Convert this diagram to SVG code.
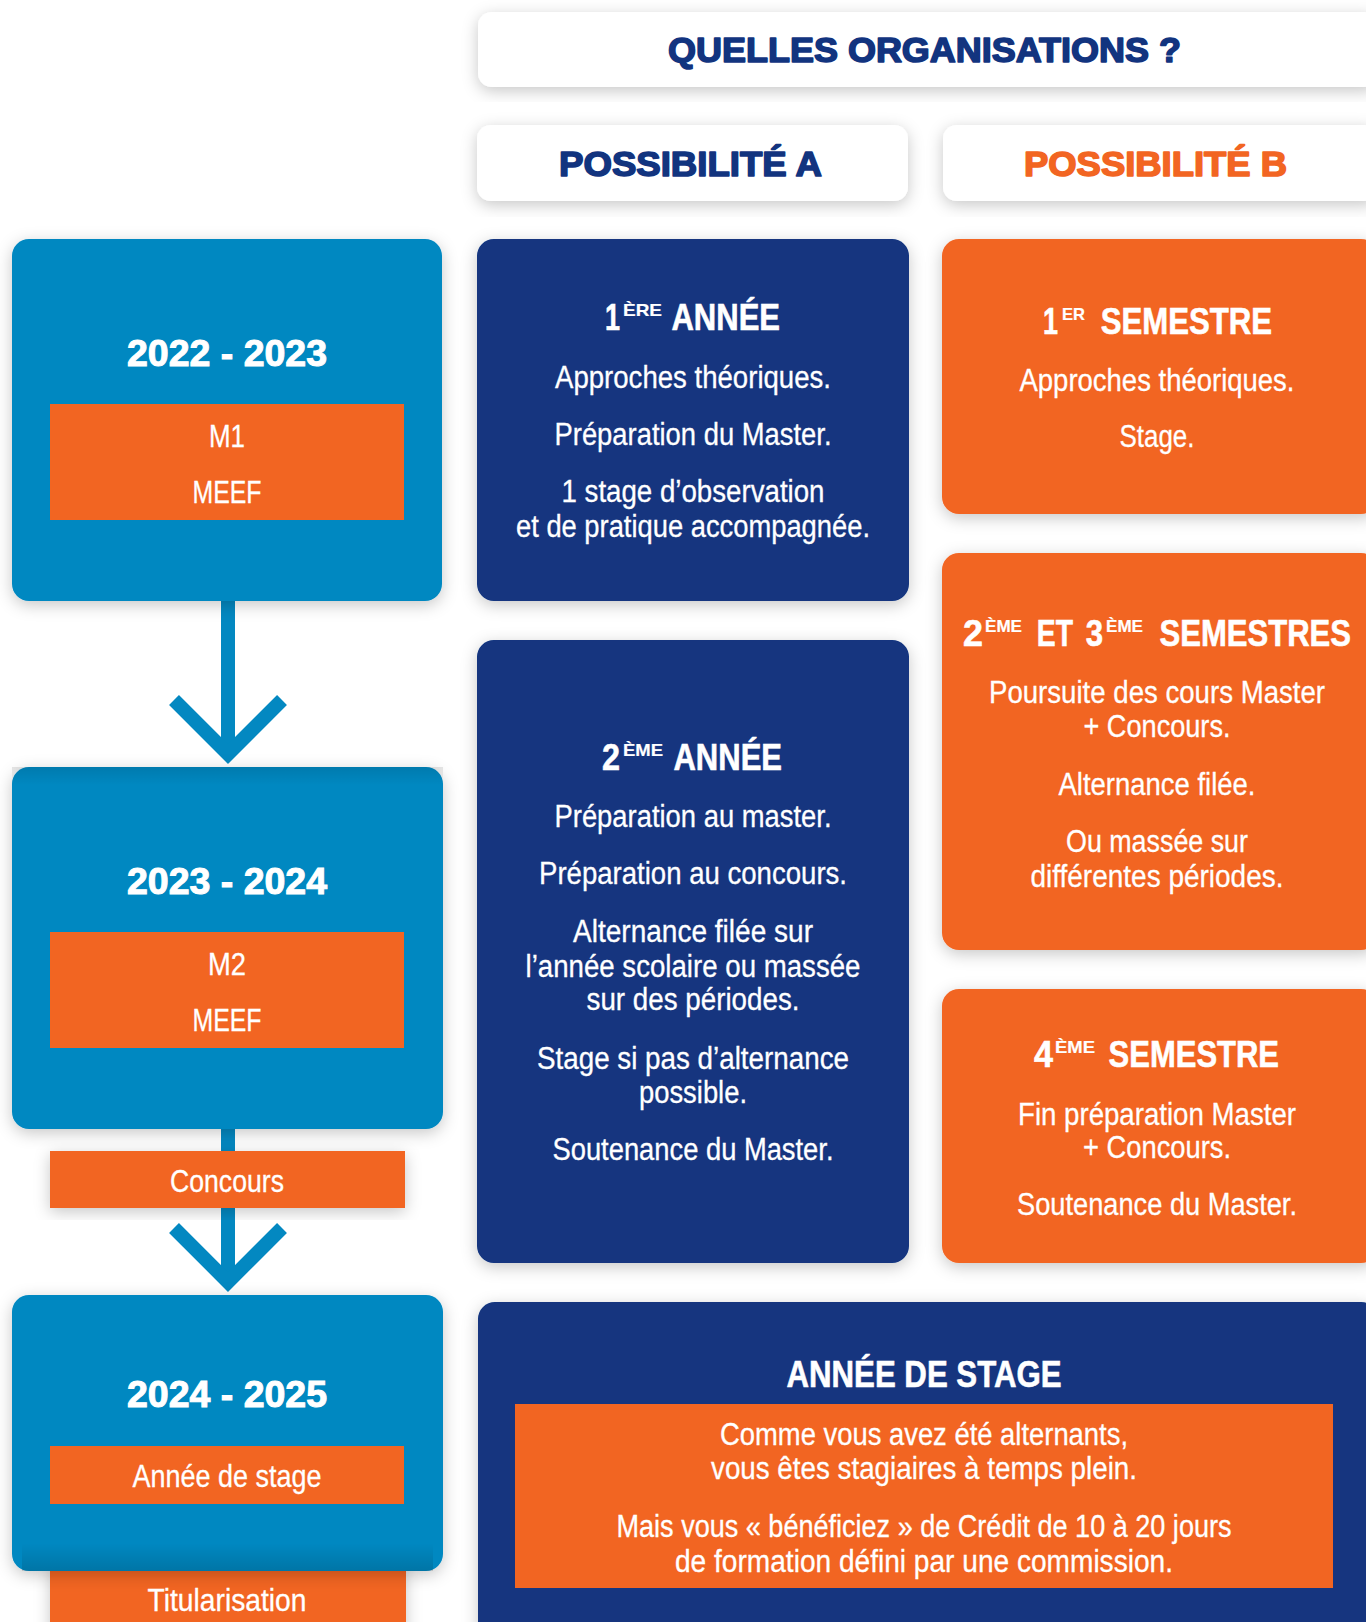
<svg xmlns="http://www.w3.org/2000/svg" width="1366" height="1622" viewBox="0 0 1366 1622">
<defs>
<filter id="sh" x="-20%" y="-20%" width="140%" height="140%">
<feDropShadow dx="0" dy="4" stdDeviation="8" flood-color="#000" flood-opacity="0.22"/>
</filter>
<linearGradient id="bandTop" x1="0" y1="0" x2="0" y2="1">
<stop offset="0" stop-color="#000" stop-opacity="0.10"/>
<stop offset="1" stop-color="#000" stop-opacity="0"/>
</linearGradient>
<linearGradient id="bandBot" x1="0" y1="0" x2="0" y2="1">
<stop offset="0" stop-color="#000" stop-opacity="0"/>
<stop offset="1" stop-color="#000" stop-opacity="0.14"/>
</linearGradient>
</defs>
<style>
.lb{fill:#0388C1}
.nv{fill:#12347F}
.or{fill:#F26522}
.wh{fill:#FFFFFF}
.hd{font-family:"Liberation Sans",Arial,sans-serif;font-weight:bold;font-size:35px;text-anchor:middle;stroke-width:1.6;stroke-linejoin:round}
.hd.nv{stroke:#12347F}
.hd.or{stroke:#F26522}
.yr{font-family:"Liberation Sans",Arial,sans-serif;font-weight:bold;font-size:37px;fill:#fff;stroke:#fff;stroke-width:1;text-anchor:middle}
.tx{font-family:"Liberation Sans Narrow","Liberation Sans",Arial,sans-serif;font-size:31px;fill:#fff;stroke:#fff;stroke-width:0.3;text-anchor:middle}
.lt{font-family:"Liberation Sans Narrow","Liberation Sans",Arial,sans-serif;font-size:32px;fill:#fff;stroke:#fff;stroke-width:0.3;text-anchor:middle}
.ti{font-family:"Liberation Sans Narrow","Liberation Sans",Arial,sans-serif;font-weight:bold;font-size:37px;fill:#fff;stroke:#fff;stroke-width:0.6}
.sp{font-size:17px;stroke-width:0.2}
.ln{stroke:#0388C1;stroke-width:14;fill:none;stroke-linejoin:miter;stroke-linecap:butt}
</style>
<rect width="1366" height="1622" fill="#fff"/>

<g id="connectors">
<line class="ln" x1="228" y1="598" x2="228" y2="756"/>
<polyline class="ln" points="174,700 228,754 282,700"/>
<line class="ln" x1="228" y1="1126" x2="228" y2="1284"/>
<polyline class="ln" points="174,1228 228,1282 282,1228"/>
</g>

<g id="header">
<rect class="wh" x="478" y="12" width="900" height="75" rx="14" filter="url(#sh)"/>
<text class="hd nv" x="924.5" y="62" textLength="513" lengthAdjust="spacingAndGlyphs">QUELLES ORGANISATIONS ?</text>
</g>
<g id="possibilite-a">
<rect class="wh" x="477" y="125" width="431" height="76" rx="14" filter="url(#sh)"/>
<text class="hd nv" x="690.5" y="176" textLength="263" lengthAdjust="spacingAndGlyphs">POSSIBILITÉ A</text>
</g>
<g id="possibilite-b">
<rect class="wh" x="943" y="125" width="435" height="76" rx="14" filter="url(#sh)"/>
<text class="hd or" x="1155.5" y="176" textLength="263" lengthAdjust="spacingAndGlyphs">POSSIBILITÉ B</text>
</g>

<g id="year-2022">
<rect class="lb" x="12" y="239" width="430" height="362" rx="17" filter="url(#sh)"/>
<text class="yr" x="227" y="366" textLength="200" lengthAdjust="spacingAndGlyphs">2022 - 2023</text>
<rect class="or" x="50" y="404" width="354" height="116"/>
<text class="lt" x="227" y="447" textLength="36" lengthAdjust="spacingAndGlyphs">M1</text>
<text class="lt" x="227" y="503" textLength="69" lengthAdjust="spacingAndGlyphs">MEEF</text>
</g>

<g id="year-2023">
<rect class="lb" x="12" y="767" width="431" height="362" rx="17" filter="url(#sh)"/>
<rect x="12" y="767" width="431" height="18" fill="url(#bandTop)"/>
<text class="yr" x="227" y="894" textLength="200" lengthAdjust="spacingAndGlyphs">2023 - 2024</text>
<rect class="or" x="50" y="932" width="354" height="116"/>
<text class="lt" x="227" y="975" textLength="38" lengthAdjust="spacingAndGlyphs">M2</text>
<text class="lt" x="227" y="1031" textLength="69" lengthAdjust="spacingAndGlyphs">MEEF</text>
</g>

<g id="concours">
<rect class="or" x="50" y="1151" width="355" height="57" filter="url(#sh)"/>
<text class="lt" x="227" y="1192" textLength="114" lengthAdjust="spacingAndGlyphs">Concours</text>
</g>

<g id="titularisation">
<rect class="or" x="50" y="1560" width="356" height="80" filter="url(#sh)"/>
<text class="lt" x="227" y="1611" textLength="159" lengthAdjust="spacingAndGlyphs">Titularisation</text>
</g>

<g id="year-2024">
<rect class="lb" x="12" y="1295" width="431" height="276" rx="17" filter="url(#sh)"/>
<rect x="22" y="1543" width="411" height="28" fill="url(#bandBot)"/>
<text class="yr" x="227" y="1407" textLength="200" lengthAdjust="spacingAndGlyphs">2024 - 2025</text>
<rect class="or" x="50" y="1446" width="354" height="58"/>
<text class="lt" x="227" y="1487" textLength="189" lengthAdjust="spacingAndGlyphs">Année de stage</text>
</g>

<g id="a-annee1">
<rect class="nv" x="477" y="239" width="432" height="362" rx="17" filter="url(#sh)"/>
<text class="ti"><tspan x="605" y="330" textLength="15" lengthAdjust="spacingAndGlyphs">1</tspan><tspan class="sp" x="623" y="316" textLength="39" lengthAdjust="spacingAndGlyphs">ÈRE</tspan><tspan x="664" y="330" textLength="116" lengthAdjust="spacingAndGlyphs"> ANNÉE</tspan></text>
<text class="tx" x="693" y="388" textLength="276" lengthAdjust="spacingAndGlyphs">Approches théoriques.</text>
<text class="tx" x="693" y="445" textLength="277" lengthAdjust="spacingAndGlyphs">Préparation du Master.</text>
<text class="tx" x="693" y="502" textLength="263" lengthAdjust="spacingAndGlyphs">1 stage d’observation</text>
<text class="tx" x="693" y="537" textLength="354" lengthAdjust="spacingAndGlyphs">et de pratique accompagnée.</text>
</g>

<g id="a-annee2">
<rect class="nv" x="477" y="640" width="432" height="623" rx="17" filter="url(#sh)"/>
<text class="ti"><tspan x="602" y="770" textLength="18" lengthAdjust="spacingAndGlyphs">2</tspan><tspan class="sp" x="623" y="756" textLength="40" lengthAdjust="spacingAndGlyphs">ÈME</tspan><tspan x="666" y="770" textLength="116" lengthAdjust="spacingAndGlyphs"> ANNÉE</tspan></text>
<text class="tx" x="693" y="827" textLength="277" lengthAdjust="spacingAndGlyphs">Préparation au master.</text>
<text class="tx" x="693" y="884" textLength="308" lengthAdjust="spacingAndGlyphs">Préparation au concours.</text>
<text class="tx" x="693" y="942" textLength="240" lengthAdjust="spacingAndGlyphs">Alternance filée sur</text>
<text class="tx" x="693" y="977" textLength="335" lengthAdjust="spacingAndGlyphs">l’année scolaire ou massée</text>
<text class="tx" x="693" y="1010" textLength="213" lengthAdjust="spacingAndGlyphs">sur des périodes.</text>
<text class="tx" x="693" y="1069" textLength="312" lengthAdjust="spacingAndGlyphs">Stage si pas d’alternance</text>
<text class="tx" x="693" y="1103" textLength="108" lengthAdjust="spacingAndGlyphs">possible.</text>
<text class="tx" x="693" y="1160" textLength="281" lengthAdjust="spacingAndGlyphs">Soutenance du Master.</text>
</g>

<g id="b-semestre1">
<rect class="or" x="942" y="239" width="436" height="275" rx="17" filter="url(#sh)"/>
<text class="ti"><tspan x="1043" y="334" textLength="15" lengthAdjust="spacingAndGlyphs">1</tspan><tspan class="sp" x="1062" y="320" textLength="23" lengthAdjust="spacingAndGlyphs">ER</tspan><tspan x="1092" y="334" textLength="180" lengthAdjust="spacingAndGlyphs"> SEMESTRE</tspan></text>
<text class="tx" x="1157" y="391" textLength="275" lengthAdjust="spacingAndGlyphs">Approches théoriques.</text>
<text class="tx" x="1157" y="447" textLength="75" lengthAdjust="spacingAndGlyphs">Stage.</text>
</g>

<g id="b-semestres23">
<rect class="or" x="942" y="553" width="436" height="397" rx="17" filter="url(#sh)"/>
<text class="ti"><tspan x="963" y="646" textLength="20" lengthAdjust="spacingAndGlyphs">2</tspan><tspan class="sp" x="985" y="632" textLength="37" lengthAdjust="spacingAndGlyphs">ÈME</tspan><tspan x="1029" y="646" textLength="44" lengthAdjust="spacingAndGlyphs"> ET</tspan><tspan x="1077" y="646" textLength="26" lengthAdjust="spacingAndGlyphs"> 3</tspan><tspan class="sp" x="1106" y="632" textLength="37" lengthAdjust="spacingAndGlyphs">ÈME</tspan><tspan x="1151" y="646" textLength="200" lengthAdjust="spacingAndGlyphs"> SEMESTRES</tspan></text>
<text class="tx" x="1157" y="703" textLength="336" lengthAdjust="spacingAndGlyphs">Poursuite des cours Master</text>
<text class="tx" x="1157" y="737" textLength="147" lengthAdjust="spacingAndGlyphs">+ Concours.</text>
<text class="tx" x="1157" y="795" textLength="197" lengthAdjust="spacingAndGlyphs">Alternance filée.</text>
<text class="tx" x="1157" y="852" textLength="182" lengthAdjust="spacingAndGlyphs">Ou massée sur</text>
<text class="tx" x="1157" y="887" textLength="253" lengthAdjust="spacingAndGlyphs">différentes périodes.</text>
</g>

<g id="b-semestre4">
<rect class="or" x="942" y="989" width="436" height="274" rx="17" filter="url(#sh)"/>
<text class="ti"><tspan x="1034" y="1067" textLength="19" lengthAdjust="spacingAndGlyphs">4</tspan><tspan class="sp" x="1055" y="1053" textLength="40" lengthAdjust="spacingAndGlyphs">ÈME</tspan><tspan x="1100" y="1067" textLength="179" lengthAdjust="spacingAndGlyphs"> SEMESTRE</tspan></text>
<text class="tx" x="1157" y="1125" textLength="278" lengthAdjust="spacingAndGlyphs">Fin préparation Master</text>
<text class="tx" x="1157" y="1158" textLength="148" lengthAdjust="spacingAndGlyphs">+ Concours.</text>
<text class="tx" x="1157" y="1215" textLength="280" lengthAdjust="spacingAndGlyphs">Soutenance du Master.</text>
</g>

<g id="annee-de-stage">
<rect class="nv" x="478" y="1302" width="900" height="340" rx="17" filter="url(#sh)"/>
<text class="ti" x="924" y="1387" text-anchor="middle" textLength="275" lengthAdjust="spacingAndGlyphs">ANNÉE DE STAGE</text>
<rect class="or" x="515" y="1404" width="818" height="184"/>
<text class="tx" x="924" y="1445" textLength="408" lengthAdjust="spacingAndGlyphs">Comme vous avez été alternants,</text>
<text class="tx" x="924" y="1479" textLength="426" lengthAdjust="spacingAndGlyphs">vous êtes stagiaires à temps plein.</text>
<text class="tx" x="924" y="1537" textLength="615" lengthAdjust="spacingAndGlyphs">Mais vous « bénéficiez » de Crédit de 10 à 20 jours</text>
<text class="tx" x="924" y="1572" textLength="498" lengthAdjust="spacingAndGlyphs">de formation défini par une commission.</text>
</g>
</svg>
